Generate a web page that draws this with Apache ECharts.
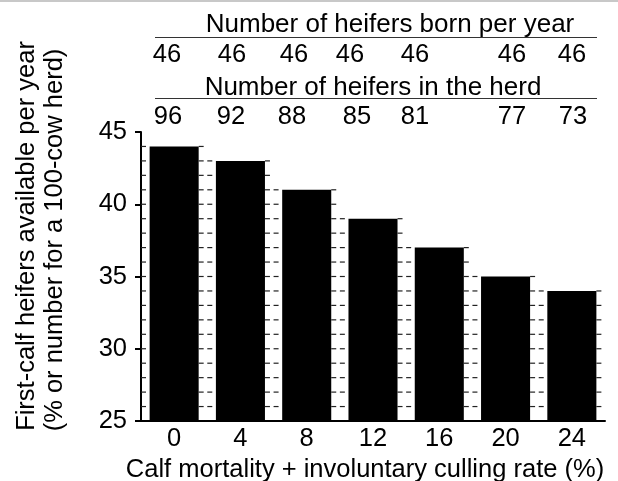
<!DOCTYPE html>
<html>
<head>
<meta charset="utf-8">
<script src="https://cdn.jsdelivr.net/npm/echarts@6/dist/echarts.min.js"></script>
<style>
html, body { margin: 0; padding: 0; background: #fff; }
#chart { width: 618px; height: 481px; }
</style>
</head>
<body>
<div id="chart"></div>
<script>
// culling rate categories (x axis)
var rates = ['0', '4', '8', '12', '16', '20', '24'];
// first-calf heifers available per year
var available = [44, 43, 41, 39, 37, 35, 34];
// rows printed above the plot
var bornPerYear = [46, 46, 46, 46, 46, 46, 46];
var inHerd = [96, 92, 88, 85, 81, 77, 73];

var yMin = 25, yMax = 45;
var FONT = 'Liberation Sans, Arial, Helvetica, sans-serif';
var GAP = 0.26; // barCategoryGap as a fraction

// where the numbers above the plot sit (x, px)
var rowX1 = [167, 232, 294, 350, 415, 512, 572];
var rowX2 = [168, 231, 292, 357, 415, 512, 573];

function txt(s, x, y, size, rot) {
    return {
        type: 'text', x: x, y: y, rotation: rot || 0, z: 10,
        style: {
            text: s, fill: '#000', font: size + 'px ' + FONT,
            align: 'center', verticalAlign: 'middle',
            textAlign: 'center', textVerticalAlign: 'middle'
        }
    };
}

var graphics = [
    { type: 'rect', shape: { x: 0, y: 0, width: 618, height: 2 }, style: { fill: '#c8c8c8' } },
    txt('Number of heifers born per year', 390, 25, 26),
    { type: 'line', shape: { x1: 155, y1: 37.5, x2: 597, y2: 37.5 }, style: { stroke: '#333', lineWidth: 1 } },
    txt('Number of heifers in the herd', 373, 88, 26),
    { type: 'line', shape: { x1: 155, y1: 98.5, x2: 597, y2: 98.5 }, style: { stroke: '#333', lineWidth: 1 } },
    txt('First-calf heifers available per year', 27, 236, 25.5, Math.PI / 2),
    txt('(% or number for a 100-cow herd)', 55, 240, 25.5, Math.PI / 2)
];
bornPerYear.forEach(function (v, i) { graphics.push(txt(String(v), rowX1[i], 55, 25.5)); });
inHerd.forEach(function (v, i) { graphics.push(txt(String(v), rowX2[i], 117, 25.5)); });

var dashStyle = { stroke: '#222', lineWidth: 1.2, lineDash: [5, 4] };

var myChart = echarts.init(document.getElementById('chart'));
var option = {
    animation: false,
    backgroundColor: '#fff',
    textStyle: { fontFamily: FONT },
    grid: { left: 141, right: 13, top: 132, bottom: 60, containLabel: false, outerBoundsMode: 'none' },
    xAxis: {
        type: 'category',
        data: rates,
        name: 'Calf mortality + involuntary culling rate (%)',
        nameLocation: 'middle',
        nameGap: 31,
        nameTextStyle: { fontSize: 25.5, color: '#000', fontFamily: FONT, padding: [0, 16, 0, 0] },
        axisLine: { lineStyle: { color: '#000', width: 2 } },
        axisTick: { show: false },
        axisLabel: { fontSize: 25.5, color: '#000', margin: 5, fontFamily: FONT },
        splitLine: { show: false }
    },
    yAxis: {
        type: 'value',
        min: yMin, max: yMax, interval: 5,
        axisLine: { show: true, lineStyle: { color: '#000', width: 2 } },
        axisTick: { show: true, length: 6, lineStyle: { color: '#000', width: 2 } },
        axisLabel: { fontSize: 25.5, color: '#000', margin: 14, fontFamily: FONT },
        splitLine: { show: false }
    },
    series: [
        {
            // dashed unit lines in the gaps of each category band, up to the bar's value
            type: 'custom',
            z: 1,
            silent: true,
            encode: { x: 0, y: 1 },
            data: available.map(function (v, i) { return [i, v]; }),
            renderItem: function (params, api) {
                var idx = api.value(0), val = api.value(1);
                var bw = api.size([1, 0])[0];
                var half = bw / 2, barHalf = bw * (1 - GAP) / 2;
                var kids = [];
                for (var lv = yMin + 1; lv <= val; lv++) {
                    var p = api.coord([idx, lv]);
                    kids.push({
                        type: 'line',
                        shape: { x1: p[0] - half, y1: p[1], x2: p[0] - barHalf, y2: p[1] },
                        style: dashStyle
                    });
                    kids.push({
                        type: 'line',
                        shape: { x1: p[0] + barHalf, y1: p[1], x2: p[0] + half, y2: p[1] },
                        style: dashStyle
                    });
                }
                return { type: 'group', children: kids };
            }
        },
        {
            type: 'bar',
            z: 2,
            data: available,
            barCategoryGap: (GAP * 100) + '%',
            itemStyle: { color: '#000' }
        }
    ],
    graphic: graphics
};
myChart.setOption(option);
</script>
</body>
</html>
